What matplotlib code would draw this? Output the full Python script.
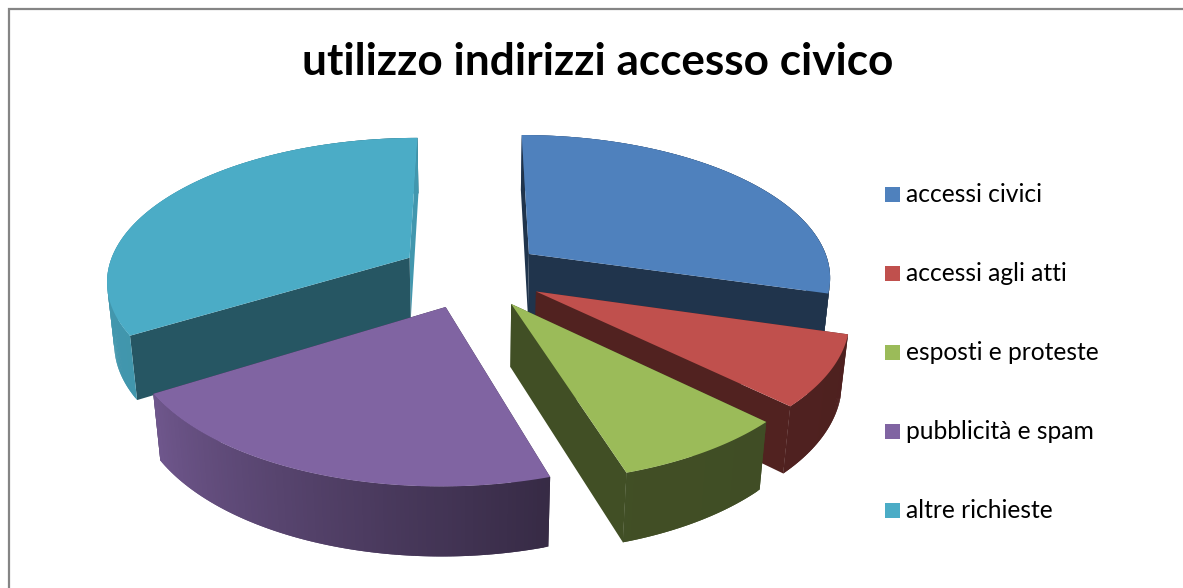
import matplotlib
matplotlib.use("Agg")
import matplotlib.pyplot as plt
from matplotlib.patches import Rectangle
from matplotlib.colors import to_rgb
import numpy as np

categories = ["accessi civici", "accessi agli atti", "esposti e proteste",
              "pubblicità e spam", "altre richieste"]
values = [29.5, 7.8, 7.9, 21.0, 33.8]
colors = ["#4F81BD", "#C0504D", "#9BBB59", "#8064A2", "#4BACC6"]
title = "utilizzo indirizzi accesso civico"

# wall brightness for the two straight cuts of every slice
first_cut = [0.40, 0.42, 0.40, 0.42, 0.50]
last_cut = [0.40, 0.42, 0.42, 0.42, 0.88]

# pie geometry in pixels
cx, cy = 472, 274
rx, ry = 303, 142
height = 63
persp = 0.148
persp_z = 0.02
explode = 0.24


def project(x, y, z=0.0):
    w = 1 + persp * y + persp_z * z
    return cx + rx * x / w, cy + (-ry * y + height * z) / w


def rim_shade(deg):
    return np.interp(deg % 360, [0, 150, 212, 288, 360], [0.40, 0.9, 0.87, 0.42, 0.40])


def dim(color, k):
    return tuple(c * k for c in to_rgb(color))


def quad(ax, pts, color):
    # wall along a run of ground points, from the top face down to the bottom one
    pts = np.array(pts)
    tx, ty = project(pts[:, 0], pts[:, 1], 0)
    bx, by = project(pts[:, 0], pts[:, 1], 1)
    ax.fill(np.r_[tx, bx[::-1]], np.r_[ty, by[::-1]], facecolor=color,
            edgecolor="none", lw=0, zorder=ax.zcount)
    ax.zcount += 0.001


def draw_slice(ax, start, sweep, color, cut_a, cut_b):
    mid = np.radians(start - sweep / 2)
    ox, oy = explode * np.cos(mid), explode * np.sin(mid)
    degs = np.linspace(start, start - sweep, max(int(sweep * 1.5), 6))
    xs = ox + np.cos(np.radians(degs))
    ys = oy + np.sin(np.radians(degs))
    apex = (ox, oy)

    walls = [([apex, (xs[0], ys[0])], dim(color, cut_a)),
             ([apex, (xs[-1], ys[-1])], dim(color, cut_b))]
    # each rim piece reaches over the next one so no seams show
    for i in range(len(degs) - 1):
        k = rim_shade((degs[i] + degs[i + 1]) / 2)
        j = min(i + 3, len(degs))
        walls.append((list(zip(xs[i:j], ys[i:j])), dim(color, k)))
    # far walls first so the near ones cover them
    walls.sort(key=lambda w: -np.mean([p[1] for p in w[0]]))
    for pts, c in walls:
        quad(ax, pts, c)

    top_x, top_y = project(np.r_[ox, xs], np.r_[oy, ys])
    ax.fill(top_x, top_y, facecolor=color, edgecolor="none", lw=0, zorder=ax.zcount)
    ax.zcount += 1


fig = plt.figure(figsize=(11.83, 5.88), dpi=100)
ax = fig.add_axes([0, 0, 1, 1])
ax.set_xlim(0, 1183)
ax.set_ylim(588, 0)
ax.axis("off")
ax.zcount = 1

# chart frame, only the left and top edges are in view
ax.plot([9.5, 9.5, 1183], [588, 9, 9], color="#858585", lw=1.6, zorder=0.5,
        solid_joinstyle="miter")

ax.text(598, 62, title, ha="center", va="center", fontsize=31.8,
        fontweight="bold", family="Lato", color="black")

# slices run clockwise from twelve o'clock
sweeps = np.array(values) / sum(values) * 360
starts = 90 - np.r_[0, np.cumsum(sweeps)[:-1]]
for i in [0, 4, 1, 2, 3]:
    draw_slice(ax, starts[i], sweeps[i], colors[i], first_cut[i], last_cut[i])

for i, name in enumerate(categories):
    y = 194.5 + i * 79
    ax.add_patch(Rectangle((885, y - 7.5), 15, 15, color=colors[i], lw=0, zorder=50))
    ax.text(906, y, name, ha="left", va="center", fontsize=17.7,
            family="Lato", color="black", zorder=50)

fig.savefig("out.png", dpi=100)
